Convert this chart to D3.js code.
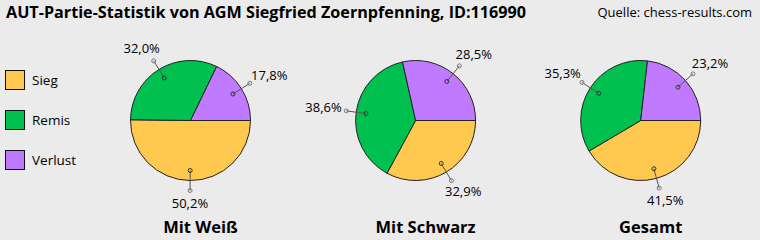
<!DOCTYPE html>
<html>
<head>
<meta charset="utf-8">
<script src="https://cdn.jsdelivr.net/npm/d3@7"></script>
<style>
    body { margin: 0; background: #ebebeb; }
    svg { display: block; font-family: "Open Sans", "Liberation Sans", sans-serif; }
</style>
</head>
<body>
<svg id="chart" width="760" height="240"></svg>
<script>
// Data
const categories = ["Sieg", "Remis", "Verlust"];
const colors = ["#ffc94f", "#00c04f", "#c07aff"];
const pieTitles = ["Mit Weiß", "Mit Schwarz", "Gesamt"];
const weissValues = [50.2, 32.0, 17.8];
const schwarzValues = [32.9, 38.6, 28.5];
const gesamtValues = [41.5, 35.3, 23.2];
const allValues = [weissValues, schwarzValues, gesamtValues];

const svg = d3.select("#chart"),
    width = +svg.attr("width"),
    height = +svg.attr("height");

svg.append("rect").attr("width", width).attr("height", height).attr("fill", "#ebebeb");

// Title + source
svg.append("text")
    .attr("x", 6).attr("y", 18)
    .attr("font-size", 16).attr("font-weight", "bold")
    .attr("textLength", 520).attr("lengthAdjust", "spacingAndGlyphs")
    .text("AUT-Partie-Statistik von AGM Siegfried Zoernpfenning, ID:116990");

svg.append("text")
    .attr("x", 752).attr("y", 17)
    .attr("text-anchor", "end")
    .attr("font-size", 13)
    .text("Quelle: chess-results.com");

// Legend
const legend = svg.append("g").selectAll("g")
    .data(categories)
    .enter().append("g")
    .attr("transform", (d, i) => "translate(5," + (70 + i * 40) + ")");

legend.append("rect")
    .attr("x", 0.5).attr("y", 0.5)
    .attr("width", 19).attr("height", 19)
    .attr("fill", (d, i) => colors[i])
    .attr("stroke", "#111");

legend.append("text")
    .attr("x", 27).attr("y", 10)
    .attr("dy", "0.35em")
    .attr("font-size", 13.5)
    .text(d => d);

// Pies
const radius = 60;
const centers = d3.scalePoint().domain(pieTitles).range([190.5, 640.7]);

const pie = d3.pie().sort(null)
    .startAngle(Math.PI / 2)
    .endAngle(Math.PI / 2 + 2 * Math.PI);
const arc = d3.arc().innerRadius(0).outerRadius(radius);
const fmt = v => d3.format(".1f")(v).replace(".", ",") + "%";

allValues.forEach(function (values, p) {
    let cx = centers(pieTitles[p]), cy = 120.5;
    let g = svg.append("g").attr("transform", "translate(" + cx + "," + cy + ")");
    let arcs = pie(values);

    g.selectAll("path")
        .data(arcs)
        .enter().append("path")
        .attr("d", arc)
        .attr("fill", (d, i) => colors[i])
        .attr("stroke", "#222")
        .attr("stroke-width", 1)
        .attr("stroke-linejoin", "round");

    // leader lines and labels
    arcs.forEach(function (d) {
        let a = (d.startAngle + d.endAngle) / 2;
        let dx = Math.sin(a), dy = -Math.cos(a);
        let x1 = dx * 50, y1 = dy * 50, x2 = dx * 70, y2 = dy * 70;
        g.append("line")
            .attr("x1", x1).attr("y1", y1).attr("x2", x2).attr("y2", y2)
            .attr("stroke", "#555").attr("stroke-width", 1);
        g.append("circle").attr("cx", x1).attr("cy", y1).attr("r", 2)
            .attr("fill", "none").attr("stroke", "#333");
        g.append("circle").attr("cx", x2).attr("cy", y2).attr("r", 2)
            .attr("fill", "none").attr("stroke", "#777");
        g.append("text")
            .attr("x", x2 + dx * 23)
            .attr("y", y2 + dy * 14 - 1)
            .attr("text-anchor", "middle")
            .attr("dy", "0.35em")
            .attr("font-size", 13)
            .text(fmt(d.data));
    });

    svg.append("text")
        .attr("x", cx + 10).attr("y", 227.5)
        .attr("text-anchor", "middle")
        .attr("dy", "0.35em")
        .attr("font-size", 16.5).attr("font-weight", "bold")
        .text(pieTitles[p]);
});
</script>
</body>
</html>
